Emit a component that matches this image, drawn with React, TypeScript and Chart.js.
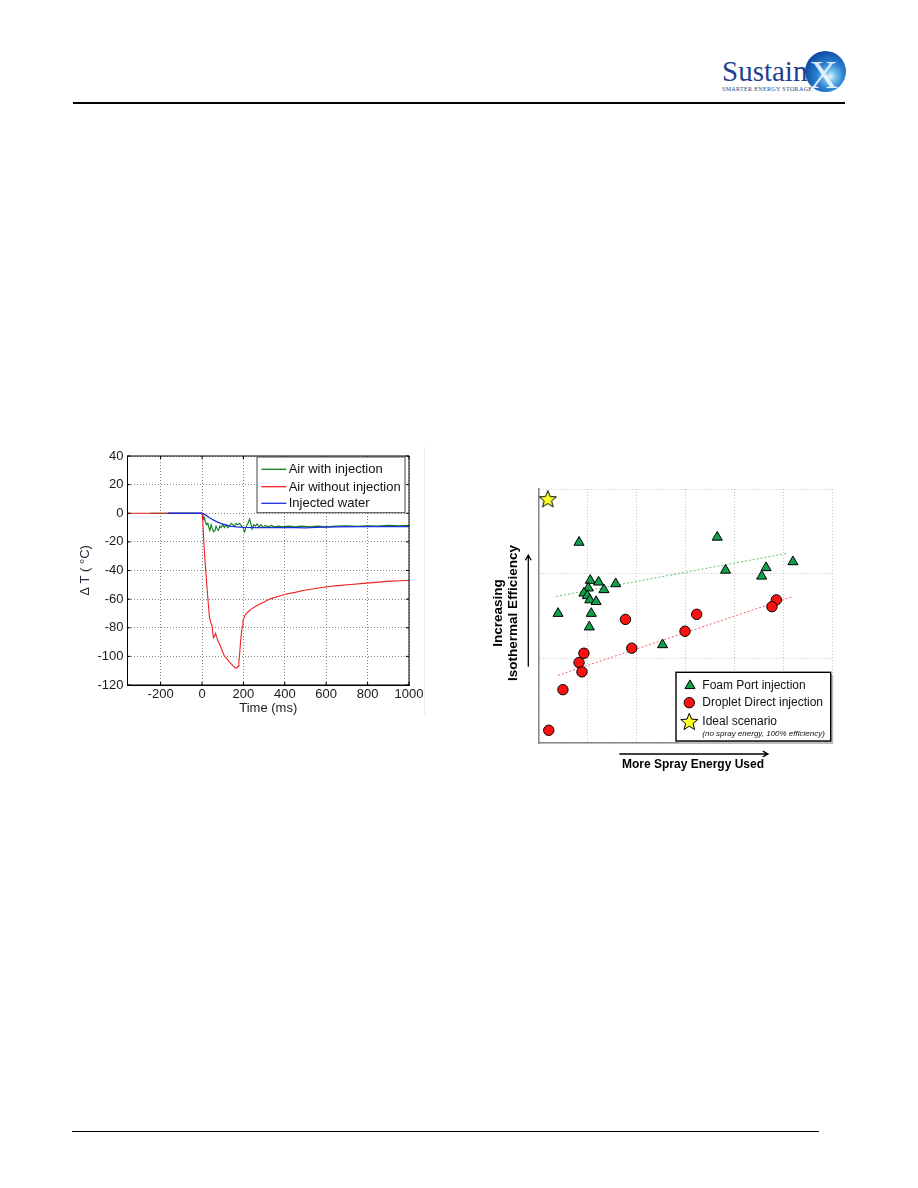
import React, { useEffect, useRef } from "react";
import { Chart, registerables } from "chart.js";

Chart.register(...registerables);

const FONT = "'Liberation Sans', Arial, Helvetica, sans-serif";

// ---------------- Left chart data ----------------
const timeTicks = [-200, 0, 200, 400, 600, 800, 1000];
const tempTicks = [40, 20, 0, -20, -40, -60, -80, -100, -120];
const timeMin = -360;
const timeMax = 1000;
const leftSeriesLabels = ["Air with injection", "Air without injection", "Injected water"];

const airWithInjT = [
  -250, 0, 4, 8, 12, 16, 22, 28, 33, 38, 44, 50, 56, 63, 68, 74, 80, 86, 92, 100,
  108, 116, 124, 133, 141, 149, 157, 165, 173, 182, 190, 198, 206, 214, 222, 230,
  236, 242, 250, 258, 266, 275, 285, 295, 305, 320, 335, 350, 370, 390, 420, 450,
  480, 520, 560, 600, 650, 700, 750, 800, 850, 900, 950, 1000,
];
const airWithInjDT = [
  0, 0, -1, -4, -3, -6, -8, -7, -10, -12, -8, -11, -13, -12, -9, -11, -12, -9, -10, -8,
  -10, -8, -10, -9, -7, -8, -9, -7, -8, -7, -9, -10, -13, -9, -7, -4,
  -7, -11, -8, -9, -7.5, -9.5, -8, -10, -8.5, -9.5, -8.5, -9.5, -9, -9.5, -9, -9.5,
  -9, -9.5, -9, -9.5, -9, -8.8, -9.2, -8.7, -9, -8.5, -8.7, -8.5,
];

const airNoInjT = [
  -360, -250, 0, 4, 8, 12, 19, 28, 36, 44, 49, 55, 60, 65, 70, 76, 84, 92, 100, 109,
  117, 133, 149, 160, 169, 174, 178, 182, 186, 190, 194, 198, 206, 214, 226, 238, 260,
  279, 300, 327, 370, 408, 450, 489, 540, 587, 652, 720, 781, 840, 895, 950, 1000,
];
const airNoInjDT = [
  0, 0, 0, -6, -18, -28, -42, -59, -73, -77, -79, -87, -86, -84, -86, -89, -91, -94, -97, -100,
  -101, -104, -106.5, -108, -108, -107, -104, -98, -90, -84, -79, -75, -72, -70, -68.5, -67, -65,
  -63.4, -62, -60, -58, -56.4, -55.3, -54, -52.8, -51.7, -50.6, -49.8, -49, -48.3, -47.6, -47.2, -47,
];

const waterT = [-165, 0, 10, 20, 35, 52, 70, 90, 110, 135, 165, 200, 250, 350, 450, 500, 550, 650, 800, 1000];
const waterDT = [0, 0, -0.5, -1.5, -3, -4.5, -5.8, -7, -8, -9, -9.5, -9.8, -10, -10, -10, -10.2, -9.8, -9.5, -9.3, -9.3];

// ---------------- Right chart data ----------------
const rightSeriesLabels = ["Foam Port injection", "Droplet Direct injection", "Ideal scenario"];
const idealNote = "(no spray energy, 100% efficiency)";

const foamX = [0.82, 3.65, 5.2, 3.82, 4.65, 4.56, 1.05, 1.22, 1.57, 1.33, 1.01, 0.92, 0.99, 1.04, 1.17, 0.39, 1.07, 1.03, 2.53];
const foamY = [2.37, 2.43, 2.14, 2.04, 2.07, 1.97, 1.92, 1.9, 1.88, 1.81, 1.83, 1.77, 1.74, 1.69, 1.67, 1.53, 1.53, 1.37, 1.16];

const dropletX = [1.77, 3.23, 2.99, 1.9, 4.86, 4.77, 0.92, 0.82, 0.88, 0.49, 0.2];
const dropletY = [1.46, 1.52, 1.32, 1.12, 1.69, 1.61, 1.06, 0.95, 0.84, 0.63, 0.15];

const idealX = [0.18];
const idealY = [2.88];

const foamFitX = [0.35, 5.07];
const foamFitY = [1.73, 2.24];
const dropletFitX = [0.39, 5.2];
const dropletFitY = [0.8, 1.73];

const energyMin = 0;
const energyMax = 6;
const effMin = 0;
const effMax = 3;

const toPoints = (xs: number[], ys: number[]) => xs.map((x, i) => ({ x, y: ys[i] }));

const GREEN = "#0f7a1e";
const RED = "#ee2222";
const BLUE = "#1a2ee0";

function drawStarPath(g: CanvasRenderingContext2D, cx: number, cy: number, outer: number, inner: number) {
  g.beginPath();
  for (let i = 0; i < 10; i++) {
    const r = i % 2 === 0 ? outer : inner;
    const a = -Math.PI / 2 + (i * Math.PI) / 5;
    const x = cx + r * Math.cos(a);
    const y = cy + r * Math.sin(a);
    if (i === 0) g.moveTo(x, y);
    else g.lineTo(x, y);
  }
  g.closePath();
  g.fillStyle = "#ffff2a";
  g.fill();
  g.lineWidth = 1;
  g.strokeStyle = "#000";
  g.stroke();
}

function makeStarCanvas() {
  const c = document.createElement("canvas");
  c.width = 22;
  c.height = 22;
  const g = c.getContext("2d")!;
  drawStarPath(g, 11, 11.5, 9, 3.9);
  return c;
}

function arrow(g: CanvasRenderingContext2D, x1: number, y1: number, x2: number, y2: number) {
  g.save();
  g.strokeStyle = "#000";
  g.lineWidth = 1.3;
  g.beginPath();
  g.moveTo(x1, y1);
  g.lineTo(x2, y2);
  const ang = Math.atan2(y2 - y1, x2 - x1);
  const L = 6;
  g.moveTo(x2 - L * Math.cos(ang - 0.5), y2 - L * Math.sin(ang - 0.5));
  g.lineTo(x2, y2);
  g.lineTo(x2 - L * Math.cos(ang + 0.5), y2 - L * Math.sin(ang + 0.5));
  g.stroke();
  g.restore();
}

const zeroPad = (s: any) => {
  s.paddingLeft = 0;
  s.paddingRight = 0;
  s.paddingTop = 0;
  s.paddingBottom = 0;
};

function LeftChart() {
  const ref = useRef<HTMLCanvasElement>(null);
  useEffect(() => {
    const canvas = ref.current!;
    const framePlugin = {
      id: "frameLegend",
      afterDraw(chart: any) {
        const g = chart.ctx as CanvasRenderingContext2D;
        const a = chart.chartArea;
        const xs = chart.scales.x;
        const ys = chart.scales.y;
        g.save();
        g.strokeStyle = "#000";
        g.lineWidth = 1;
        g.strokeRect(a.left, a.top, a.right - a.left, a.bottom - a.top);
        g.beginPath();
        timeTicks.forEach((v) => {
          const px = xs.getPixelForValue(v);
          g.moveTo(px, a.bottom);
          g.lineTo(px, a.bottom - 3);
          g.moveTo(px, a.top);
          g.lineTo(px, a.top + 3);
        });
        tempTicks.forEach((v) => {
          const py = ys.getPixelForValue(v);
          g.moveTo(a.left, py);
          g.lineTo(a.left + 3, py);
          g.moveTo(a.right, py);
          g.lineTo(a.right - 3, py);
        });
        g.stroke();
        // legend
        const bx = a.right - 152;
        const by = a.top + 1;
        const bw = 148;
        const bh = 55.7;
        g.fillStyle = "#fff";
        g.fillRect(bx, by, bw, bh);
        g.strokeStyle = "#444";
        g.lineWidth = 1;
        g.strokeRect(bx, by, bw, bh);
        const colors = [GREEN, RED, BLUE];
        const rows = [12.3, 29.7, 46.3];
        g.font = `13px ${FONT}`;
        g.textBaseline = "middle";
        g.textAlign = "left";
        leftSeriesLabels.forEach((lab, i) => {
          g.strokeStyle = colors[i];
          g.lineWidth = 1.3;
          g.beginPath();
          g.moveTo(bx + 4.4, by + rows[i]);
          g.lineTo(bx + 29.4, by + rows[i]);
          g.stroke();
          g.fillStyle = "#111";
          g.fillText(lab, bx + 31.7, by + rows[i] + 0.5);
        });
        g.restore();
      },
    };
    const chart = new Chart(canvas, {
      type: "scatter",
      data: {
        datasets: [
          {
            label: leftSeriesLabels[0],
            data: toPoints(airWithInjT, airWithInjDT),
            showLine: true,
            borderColor: GREEN,
            backgroundColor: GREEN,
            borderWidth: 1.1,
            pointRadius: 0,
            order: 3,
          },
          {
            label: leftSeriesLabels[1],
            data: toPoints(airNoInjT, airNoInjDT),
            showLine: true,
            borderColor: RED,
            backgroundColor: RED,
            borderWidth: 1.1,
            pointRadius: 0,
            order: 2,
          },
          {
            label: leftSeriesLabels[2],
            data: toPoints(waterT, waterDT),
            showLine: true,
            borderColor: BLUE,
            backgroundColor: BLUE,
            borderWidth: 1.3,
            pointRadius: 0,
            order: 1,
          },
        ],
      },
      options: {
        responsive: false,
        animation: false,
        events: [],
        layout: { padding: { top: 11, right: 21, left: 0, bottom: 0 } },
        plugins: { legend: { display: false }, tooltip: { enabled: false } },
        scales: {
          x: {
            type: "linear",
            min: timeMin,
            max: timeMax,
            afterBuildTicks: (s: any) => {
              s.ticks = timeTicks.map((v) => ({ value: v }));
            },
            afterFit: (s: any) => {
              s.height = 35;
              zeroPad(s);
            },
            ticks: {
              font: { family: FONT, size: 13 },
              color: "#1a1a1a",
              padding: 2,
              maxRotation: 0,
              autoSkip: false,
              callback: (v: any) => String(v),
            },
            grid: { color: "#666", lineWidth: 0.8, drawTicks: false },
            border: { display: true, color: "#000", width: 1, dash: [1, 2] },
            title: {
              display: true,
              text: "Time (ms)",
              font: { family: FONT, size: 13 },
              color: "#1a1a1a",
              padding: { top: 0, bottom: 4 },
            },
          },
          y: {
            type: "linear",
            min: -120,
            max: 40,
            afterBuildTicks: (s: any) => {
              s.ticks = tempTicks.map((v) => ({ value: v }));
            },
            afterFit: (s: any) => {
              s.width = 57.5;
              zeroPad(s);
            },
            ticks: {
              font: { family: FONT, size: 13 },
              color: "#1a1a1a",
              padding: 4,
              autoSkip: false,
              callback: (v: any) => String(v),
            },
            grid: { color: "#666", lineWidth: 0.8, drawTicks: false },
            border: { display: true, color: "#000", width: 1, dash: [1, 2] },
            title: {
              display: true,
              text: "Δ T ( °C)",
              font: { family: FONT, size: 13 },
              color: "#2a2a3a",
              padding: { top: 8, bottom: 0 },
            },
          },
        },
      },
      plugins: [framePlugin],
    } as any);
    return () => chart.destroy();
  }, []);
  return (
    <canvas
      ref={ref}
      width={360}
      height={275}
      style={{ position: "absolute", left: 70, top: 445, width: 360, height: 275, display: "block" }}
    />
  );
}

function RightChart() {
  const ref = useRef<HTMLCanvasElement>(null);
  useEffect(() => {
    const canvas = ref.current!;
    const star = makeStarCanvas();
    const annot = {
      id: "annot",
      afterDraw(chart: any) {
        const g = chart.ctx as CanvasRenderingContext2D;
        const a = chart.chartArea;
        g.save();
        // y title
        g.fillStyle = "#000";
        g.font = `bold 13.5px ${FONT}`;
        g.textAlign = "center";
        g.textBaseline = "middle";
        const cy = a.top + 124;
        g.save();
        g.translate(a.left - 41, cy);
        g.rotate(-Math.PI / 2);
        g.fillText("Increasing", 0, 0);
        g.restore();
        g.save();
        g.translate(a.left - 25.5, cy);
        g.rotate(-Math.PI / 2);
        g.fillText("Isothermal Efficiency", 0, 0);
        g.restore();
        arrow(g, a.left - 10.7, a.top + 177.7, a.left - 10.7, a.top + 66);
        // x title
        arrow(g, a.left + 80.3, a.bottom + 11, a.left + 229, a.bottom + 11);
        g.font = `bold 12px ${FONT}`;
        g.fillText("More Spray Energy Used", a.left + 154, a.bottom + 22);
        // legend
        const bx = a.left + 137;
        const by = a.top + 183.3;
        const bw = 154.7;
        const bh = 68.7;
        g.fillStyle = "#bdbdbd";
        g.fillRect(bx + 2.5, by + 2.5, bw, bh);
        g.fillStyle = "#fff";
        g.fillRect(bx, by, bw, bh);
        g.strokeStyle = "#000";
        g.lineWidth = 1.4;
        g.strokeRect(bx, by, bw, bh);
        // triangle marker
        const tx = bx + 14;
        const ty = by + 13.4;
        const r = 5.8;
        g.beginPath();
        g.moveTo(tx, ty - r);
        g.lineTo(tx + r * 0.866, ty + r * 0.5);
        g.lineTo(tx - r * 0.866, ty + r * 0.5);
        g.closePath();
        g.fillStyle = "#13a04a";
        g.fill();
        g.lineWidth = 1;
        g.strokeStyle = "#000";
        g.stroke();
        // circle marker
        g.beginPath();
        g.arc(bx + 13.3, by + 30.4, 5.2, 0, Math.PI * 2);
        g.fillStyle = "#ff1010";
        g.fill();
        g.stroke();
        // star marker
        drawStarPath(g, bx + 13.3, by + 50, 9, 3.9);
        g.fillStyle = "#111";
        g.textAlign = "left";
        g.font = `12px ${FONT}`;
        g.fillText(rightSeriesLabels[0], bx + 26.3, by + 13.6);
        g.fillText(rightSeriesLabels[1], bx + 26.3, by + 30.6);
        g.fillText(rightSeriesLabels[2], bx + 26.3, by + 49.4);
        g.font = `italic 8px ${FONT}`;
        g.fillText(idealNote, bx + 26.3, by + 61.8);
        g.restore();
      },
    };
    const chart = new Chart(canvas, {
      type: "scatter",
      data: {
        datasets: [
          {
            label: rightSeriesLabels[2],
            data: toPoints(idealX, idealY),
            pointStyle: star,
            pointRadius: 9,
            order: 1,
          },
          {
            label: rightSeriesLabels[0],
            data: toPoints(foamX, foamY),
            pointStyle: "triangle",
            pointRadius: 5.8,
            backgroundColor: "#13a04a",
            borderColor: "#000",
            borderWidth: 1,
            order: 2,
          },
          {
            label: rightSeriesLabels[1],
            data: toPoints(dropletX, dropletY),
            pointStyle: "circle",
            pointRadius: 5.2,
            backgroundColor: "#ff1010",
            borderColor: "#000",
            borderWidth: 1,
            order: 3,
          },
          {
            label: "Foam fit",
            data: toPoints(foamFitX, foamFitY),
            showLine: true,
            pointRadius: 0,
            borderColor: "#5cc46c",
            borderWidth: 1,
            borderDash: [2, 2],
            order: 5,
          },
          {
            label: "Droplet fit",
            data: toPoints(dropletFitX, dropletFitY),
            showLine: true,
            pointRadius: 0,
            borderColor: "#f06262",
            borderWidth: 1,
            borderDash: [2, 2],
            order: 5,
          },
        ],
      },
      options: {
        responsive: false,
        animation: false,
        events: [],
        layout: { padding: { top: 19, right: 18, left: 0, bottom: 0 } },
        plugins: { legend: { display: false }, tooltip: { enabled: false } },
        scales: {
          x: {
            type: "linear",
            min: energyMin,
            max: energyMax,
            ticks: { display: false, stepSize: 1 },
            afterFit: (s: any) => {
              s.height = 37;
              zeroPad(s);
            },
            grid: { color: "#c4c4c4", lineWidth: 1, drawTicks: false },
            border: { display: true, color: "#8a8a8a", width: 1.5, dash: [1, 2] },
          },
          y: {
            type: "linear",
            min: effMin,
            max: effMax,
            ticks: { display: false, stepSize: 1 },
            afterFit: (s: any) => {
              s.width = 59;
              zeroPad(s);
            },
            grid: { color: "#c4c4c4", lineWidth: 1, drawTicks: false },
            border: { display: true, color: "#8a8a8a", width: 1.5, dash: [1, 2] },
          },
        },
      },
      plugins: [annot],
    } as any);
    return () => chart.destroy();
  }, []);
  return (
    <canvas
      ref={ref}
      width={370}
      height={310}
      style={{ position: "absolute", left: 480, top: 470, width: 370, height: 310, display: "block" }}
    />
  );
}

function Logo() {
  return (
    <div style={{ position: "absolute", left: 0, top: 0 }}>
      <div
        style={{
          position: "absolute",
          left: 805,
          top: 51,
          width: 41,
          height: 41,
          borderRadius: "50%",
          background:
            "radial-gradient(circle at 62% 62%, #e8f6ff 0%, #7cc4f0 14%, #2a7fd0 38%, #134fa8 70%, #0a2c78 100%)",
        }}
      />
      <div
        style={{
          position: "absolute",
          left: 722,
          top: 57,
          fontFamily: "'Liberation Serif', 'Times New Roman', serif",
          fontSize: 29,
          lineHeight: "29px",
          color: "#1f3f92",
          whiteSpace: "nowrap",
        }}
      >
        Sustain
      </div>
      <div
        style={{
          position: "absolute",
          left: 809,
          top: 55,
          fontFamily: "'Liberation Serif', 'Times New Roman', serif",
          fontSize: 40,
          lineHeight: "40px",
          color: "rgba(240,248,255,0.92)",
          whiteSpace: "nowrap",
        }}
      >
        X
      </div>
      <div
        style={{
          position: "absolute",
          left: 722,
          top: 86,
          fontFamily: "'Liberation Serif', 'Times New Roman', serif",
          fontSize: 6,
          lineHeight: "6px",
          letterSpacing: 0.35,
          color: "#1f3f92",
          whiteSpace: "nowrap",
        }}
      >
        SMARTER ENERGY STORAGE
      </div>
    </div>
  );
}

export default function App() {
  return (
    <div
      style={{
        position: "absolute",
        left: 0,
        top: 0,
        width: 918,
        height: 1188,
        background: "#fff",
        overflow: "hidden",
      }}
    >
      <Logo />
      <div style={{ position: "absolute", left: 73, top: 102, width: 772, height: 1.5, background: "#000" }} />
      <div style={{ position: "absolute", left: 72, top: 1130.5, width: 747, height: 1.5, background: "#000" }} />
      <div style={{ position: "absolute", left: 424, top: 447, width: 1, height: 268, background: "#ececec" }} />
      <LeftChart />
      <RightChart />
    </div>
  );
}
